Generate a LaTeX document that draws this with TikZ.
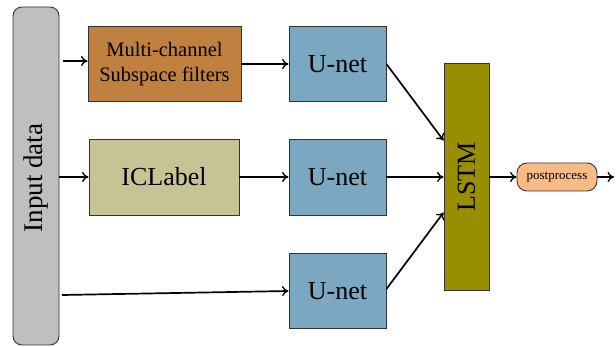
\documentclass[tikz,border=0pt]{standalone}
\usepackage{fontspec}
\setmainfont{Liberation Serif}
\usetikzlibrary{arrows.meta,calc}
\definecolor{inpgray}{HTML}{BFBFBF}
\definecolor{msfcol}{HTML}{C0803F}
\definecolor{unetcol}{HTML}{7BA8C0}
\definecolor{iclcol}{HTML}{C8C394}
\definecolor{lstmcol}{HTML}{998D00}
\definecolor{ppcol}{HTML}{F9BB86}
\definecolor{edge}{HTML}{333333}
\tikzset{
  blk/.style={draw=edge, line width=0.9pt, inner sep=0pt, align=center, font=\fontsize{26}{30}\selectfont},
  conn/.style={line width=1.7pt, -{To[length=6.5pt,width=10pt,line width=1.3pt]}},
}
\begin{document}
\begin{tikzpicture}[x=1pt,y=-1pt]
\useasboundingbox (0,0) rectangle (616,347);
\node[blk, fill=inpgray, rounded corners=9pt, minimum width=46pt, minimum height=338pt] (inp) at (36,176) {};
\node[font=\fontsize{27}{30}\selectfont, rotate=90] (inplabel) at (36,178) {Input data};
\node[blk, fill=msfcol, minimum width=153pt, minimum height=75pt, font=\fontsize{20.5}{25}\selectfont] (msf) at (164.5,64) {Multi-channel\\Subspace filters};
\node[blk, fill=unetcol, minimum width=97pt, minimum height=75pt] (u1) at (337.5,64) {U-net};
\node[blk, fill=iclcol, minimum width=150pt, minimum height=76pt] (icl) at (164,177) {ICLabel};
\node[blk, fill=unetcol, minimum width=97pt, minimum height=76pt] (u2) at (337.5,177) {U-net};
\node[blk, fill=unetcol, minimum width=97pt, minimum height=75pt] (u3) at (337.5,291) {U-net};
\node[blk, fill=lstmcol, minimum width=45pt, minimum height=227pt] (lstm) at (466.5,176.5) {};
\node[font=\fontsize{26}{30}\selectfont, rotate=90] (lstmlabel) at (466.5,177) {LSTM};
\node[blk, fill=ppcol, rounded corners=10pt, minimum width=80pt, minimum height=28pt, font=\fontsize{13}{15}\selectfont] (pp) at (557,177) {postprocess};
\coordinate (a1) at (63,61);
\coordinate (a3) at (62,295);
\coordinate (out) at (614,177);
\draw[conn] (a1) -- (a1 -| msf.west);
\draw[conn] (inp.east |- icl.west) -- (icl.west);
\draw[conn] (a3) -- (u3.west);
\draw[conn] (msf.east) -- (u1.west);
\draw[conn] (icl.east) -- (u2.west);
\draw[conn] (u1.east) -- ($(lstm.west)+(0,-36)$);
\draw[conn] (u2.east) -- (lstm.west |- u2.east);
\draw[conn] ($(u3.east)+(0,-2)$) -- ($(lstm.west)+(0,36)$);
\draw[conn] (lstm.east |- pp.west) -- (pp.west);
\draw[conn] (pp.east) -- (out);
\end{tikzpicture}
\end{document}
